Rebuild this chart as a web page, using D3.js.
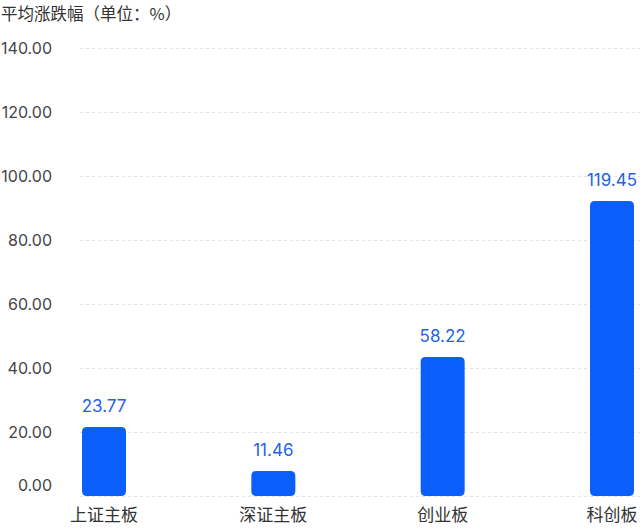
<!DOCTYPE html>
<html><head><meta charset="utf-8">
<script src="https://cdn.jsdelivr.net/npm/d3@7"></script>
<style>
html,body{margin:0;padding:0;background:#fff;}
svg{display:block;}
</style></head>
<body>
<svg id="chart" width="640" height="528"></svg>
<script>
const title = "平均涨跌幅（单位：%）";
const categories = ["上证主板", "深证主板", "创业板", "科创板"];
// bar heights as drawn in the picture (read against the axis)
const barValues = [21.6, 7.8, 43.4, 92.2];
// value labels printed above the bars
const labelValues = [23.77, 11.46, 58.22, 119.45];
const yTicks = [0, 20, 40, 60, 80, 100, 120, 140];

const svg = d3.select("#chart");
const numFont = "Inter, 'Noto Sans', sans-serif";
const cjkFont = "'Noto Sans CJK SC', sans-serif";

const y = d3.scaleLinear().domain([0, 140]).range([496, 48]);
const x = d3.scalePoint().domain(categories).range([104, 612]);
const barW = 44;

// title
svg.append("text").attr("x", 1).attr("y", 20)
  .attr("font-family", cjkFont).attr("font-size", 16.5).attr("fill", "#333")
  .text(title);

// gridlines
svg.append("g").selectAll("line").data(yTicks).join("line")
  .attr("x1", 80).attr("x2", 640)
  .attr("y1", d => y(d) + 0.5).attr("y2", d => y(d) + 0.5)
  .attr("stroke", "#e2e2e2").attr("stroke-width", 1)
  .attr("stroke-dasharray", "3,3");

// y axis labels
svg.append("g").selectAll("text").data(yTicks).join("text")
  .attr("x", 52).attr("y", d => y(d) - (d === 0 ? 11 : 0))
  .attr("dy", "0.35em").attr("text-anchor", "end")
  .attr("font-family", numFont).attr("font-size", 16).attr("fill", "#444")
  .text(d => d3.format(".2f")(d));

// bars
svg.append("g").selectAll("path").data(categories).join("path")
  .attr("fill", "#0a5ffa")
  .attr("d", (c, i) => {
    const x0 = x(c) - barW / 2, y0 = y(barValues[i]), h = y(0) - y0, r = 5;
    return `M${x0},${y0 + r} Q${x0},${y0} ${x0 + r},${y0} L${x0 + barW - r},${y0} Q${x0 + barW},${y0} ${x0 + barW},${y0 + r} L${x0 + barW},${y0 + h - r} Q${x0 + barW},${y0 + h} ${x0 + barW - r},${y0 + h} L${x0 + r},${y0 + h} Q${x0},${y0 + h} ${x0},${y0 + h - r} Z`;
  });

// value labels
svg.append("g").selectAll("text").data(categories).join("text")
  .attr("x", c => x(c)).attr("y", (c, i) => y(barValues[i]) - 15)
  .attr("text-anchor", "middle")
  .attr("font-family", numFont).attr("font-size", 17).attr("fill", "#1f63e0")
  .text((c, i) => d3.format(".2f")(labelValues[i]));

// category labels
svg.append("g").selectAll("text").data(categories).join("text")
  .attr("x", c => x(c)).attr("y", 521)
  .attr("text-anchor", "middle")
  .attr("font-family", cjkFont).attr("font-size", 17).attr("fill", "#333")
  .text(c => c);
</script>
</body></html>
